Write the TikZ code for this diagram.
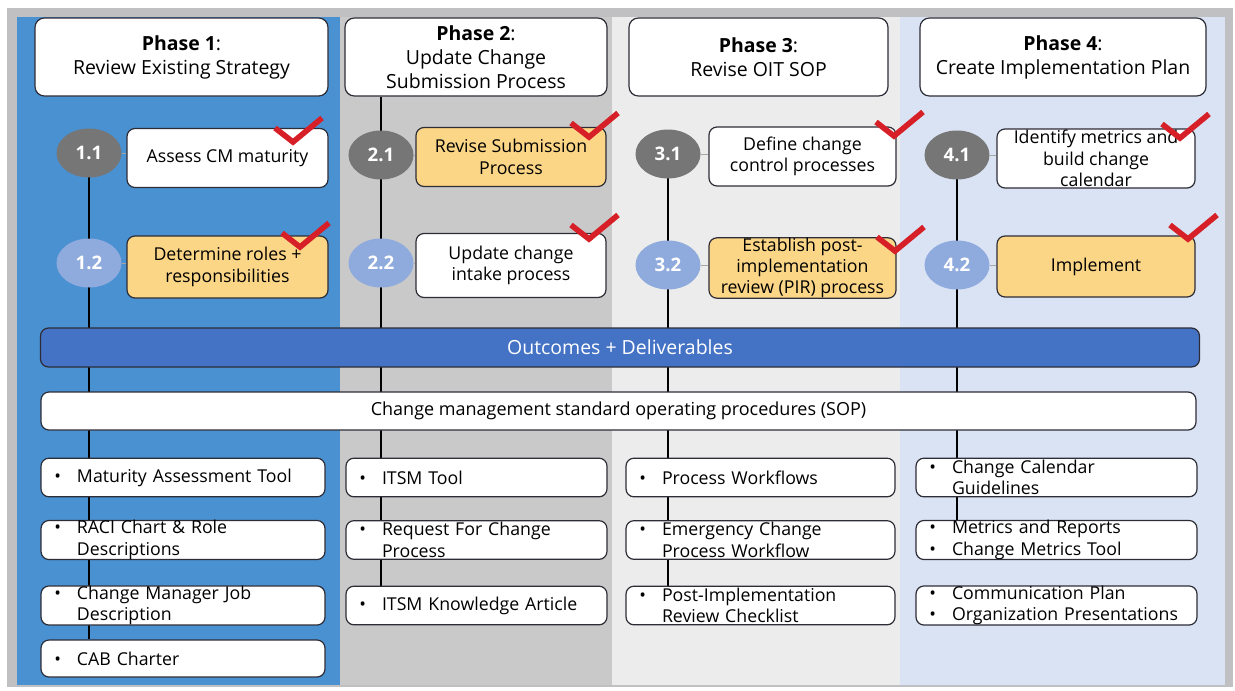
\documentclass[tikz,border=0pt]{standalone}
\usepackage{fontspec}
\setmainfont{Open Sans}
\usetikzlibrary{shapes.geometric}

\definecolor{phaseblue}{RGB}{74,145,210}
\definecolor{phasegray}{RGB}{201,201,201}
\definecolor{phaselight}{RGB}{236,236,236}
\definecolor{phaseice}{RGB}{218,227,243}
\definecolor{framegray}{RGB}{192,192,194}
\definecolor{boxline}{RGB}{45,45,55}
\definecolor{taskgold}{RGB}{252,214,135}
\definecolor{stepdark}{RGB}{118,118,118}
\definecolor{steplight}{RGB}{143,170,220}
\definecolor{outbar}{RGB}{68,114,196}
\definecolor{tickred}{RGB}{214,31,38}

\pgfdeclarelayer{backdrop}
\pgfdeclarelayer{links}
\pgfsetlayers{backdrop,links,main}

% bullet and hanging indent for the deliverable lists
\newcommand{\bl}{\makebox[17pt][l]{\textbullet}}
\newcommand{\nb}{\hspace*{17pt}}

\begin{document}
\begin{tikzpicture}[
    x=0.75pt, y=-0.75pt,
    font=\fontsize{13.3}{16}\selectfont,
    phase/.style={draw=boxline, fill=white, line width=0.9pt, rounded corners=7pt, align=center, minimum height=58.5pt, inner ysep=1pt, font=\fontsize{14.6}{18}\selectfont},
    num/.style={ellipse, draw=none, minimum width=48.75pt, minimum height=36.75pt, text=white, font=\fontsize{14}{15}\selectfont\bfseries},
    task/.style={draw=boxline, fill=white, line width=0.9pt, rounded corners=6pt, align=center, inner xsep=2pt, inner ysep=0pt},
    item/.style={draw=boxline, fill=white, line width=0.9pt, rounded corners=6pt, align=left, inner xsep=10pt, inner ysep=0pt, minimum height=29pt, text width=#1},
    band/.style={draw=boxline, line width=0.9pt, rounded corners=6pt, inner sep=0pt},
    link/.style={line width=1.1pt, draw=black},
    stub/.style={line width=0.6pt, draw=black!35},
    tickline/.style={draw=tickred, line width=4.2pt},
    pics/tick/.style={code={\draw[tickline] (-18,-14) -- (0,0) -- (29,-24);}}
]
\useasboundingbox (0,0) rectangle (1235,690);

% column backgrounds
\begin{pgfonlayer}{backdrop}
\fill[white] (0,0) rectangle (1235,690);
\fill[framegray] (7,8) rectangle (1233,687);
\fill[phaseblue] (17,17) rectangle (340,685);
\fill[phasegray] (340,17) rectangle (612,685);
\fill[phaselight] (612,17) rectangle (900,685);
\fill[phaseice] (900,17) rectangle (1225,685);
\end{pgfonlayer}

% phase headers
\node[phase, minimum width=219.75pt] (h1) at (181.5,57) {\textbf{Phase 1}:\\Review Existing Strategy};
\node[phase, minimum width=196.5pt] (h2) at (476,57) {\textbf{Phase 2}:\\Update Change\\Submission Process};
\node[phase, minimum width=194.25pt] (h3) at (758.5,57) {\textbf{Phase 3}:\\Revise OIT SOP};
\node[phase, minimum width=214.5pt] (h4) at (1063,57) {\textbf{Phase 4}:\\Create Implementation Plan};

% numbered steps
\node[num, fill=stepdark] (c11) at (89,153) {1.1};
\node[num, fill=steplight] (c12) at (89,263) {1.2};
\node[num, fill=stepdark] (c21) at (381,155) {2.1};
\node[num, fill=steplight] (c22) at (381,263) {2.2};
\node[num, fill=stepdark] (c31) at (668,154) {3.1};
\node[num, fill=steplight] (c32) at (668,265) {3.2};
\node[num, fill=stepdark] (c41) at (957,155) {4.1};
\node[num, fill=steplight] (c42) at (957,265) {4.2};

\node[task, minimum width=150.75pt, minimum height=44.25pt] (s11) at (227.5,158) {Assess CM maturity};
\node[task, fill=taskgold, minimum width=150.75pt, minimum height=46.5pt] (s12) at (227.5,267) {Determine roles +\\responsibilities};
\node[task, fill=taskgold, minimum width=142.5pt, minimum height=44.25pt] (s21) at (511,157) {Revise Submission\\Process};
\node[task, minimum width=142.5pt, minimum height=48pt] (s22) at (511,265.5) {Update change\\intake process};
\node[task, minimum width=140.25pt, minimum height=44.25pt] (s31) at (802.5,156.5) {Define change\\control processes};
\node[task, fill=taskgold, minimum width=140.25pt, minimum height=45pt] (s32) at (802.5,268) {Establish post-\\implementation\\review (PIR) process};
\node[task, minimum width=148.5pt, minimum height=44.25pt] (s41) at (1096,158.5) {Identify metrics and\\build change\\calendar};
\node[task, fill=taskgold, minimum width=148.5pt, minimum height=45.75pt] (s42) at (1096,266.5) {Implement};

% outcome bands
\node[band, fill=outbar, text=white, minimum width=869.25pt, minimum height=29.25pt, font=\fontsize{14.6}{16}\selectfont] (outc) at (620,347.5) {Outcomes + Deliverables};
\node[band, fill=white, minimum width=866.25pt, minimum height=28.5pt, font=\fontsize{13.5}{16}\selectfont] (sop) at (618.5,411) {Change management standard operating procedures (SOP)};

% deliverables
\node[item=193pt] (d11) at (183,477.5) {\bl Maturity Assessment Tool};
\node[item=193pt] (d12) at (183,540) {\bl RACI Chart \& Role\\\nb Descriptions};
\node[item=193pt] (d13) at (183,605.5) {\bl Change Manager Job\\\nb Description};
\node[item=193pt, minimum height=27.75pt] (d14) at (183,658.5) {\bl CAB Charter};

\node[item=175.75pt] (d21) at (476.5,477.5) {\bl ITSM Tool};
\node[item=175.75pt] (d22) at (476.5,540) {\bl Request For Change\\\nb Process};
\node[item=175.75pt] (d23) at (476.5,605.5) {\bl ITSM Knowledge Article};

\node[item=181.75pt] (d31) at (760.5,477.5) {\bl Process Workflows};
\node[item=181.75pt] (d32) at (760.5,540) {\bl Emergency Change\\\nb Process Workflow};
\node[item=181.75pt] (d33) at (760.5,605.5) {\bl Post-Implementation\\\nb Review Checklist};

\node[item=190.75pt] (d41) at (1056.5,477.5) {\bl Change Calendar\\\nb Guidelines};
\node[item=190.75pt] (d42) at (1056.5,540) {\bl Metrics and Reports\\\bl Change Metrics Tool};
\node[item=190.75pt] (d43) at (1056.5,605.5) {\bl Communication Plan\\\bl Organization Presentations};

% timelines behind the boxes
\begin{pgfonlayer}{links}
\draw[link] (c11.center) -- (c11 |- d14.north);
\draw[link] (h2.south -| c21) -- (c21 |- d23.north);
\draw[link] (c31.center) -- (c31 |- d33.north);
\draw[link] (c41.center) -- (c41 |- d42.north);
\end{pgfonlayer}

\draw[stub] (c11.east) -- (c11.east -| s11.west);
\draw[stub] (c12.east) -- (c12.east -| s12.west);
\draw[stub] (c21.east) -- (c21.east -| s21.west);
\draw[stub] (c22.east) -- (c22.east -| s22.west);
\draw[stub] (c31.east) -- (c31.east -| s31.west);
\draw[stub] (c32.east) -- (c32.east -| s32.west);
\draw[stub] (c41.east) -- (c41.east -| s41.west);
\draw[stub] (c42.east) -- (c42.east -| s42.west);

% completed marks
\pic at (293,142) {tick};
\pic at (300,247) {tick};
\pic at (589,137) {tick};
\pic at (589,239) {tick};
\pic at (894,136) {tick};
\pic at (895,251) {tick};
\pic at (1180,138) {tick};
\pic at (1188,239) {tick};
\end{tikzpicture}
\end{document}
